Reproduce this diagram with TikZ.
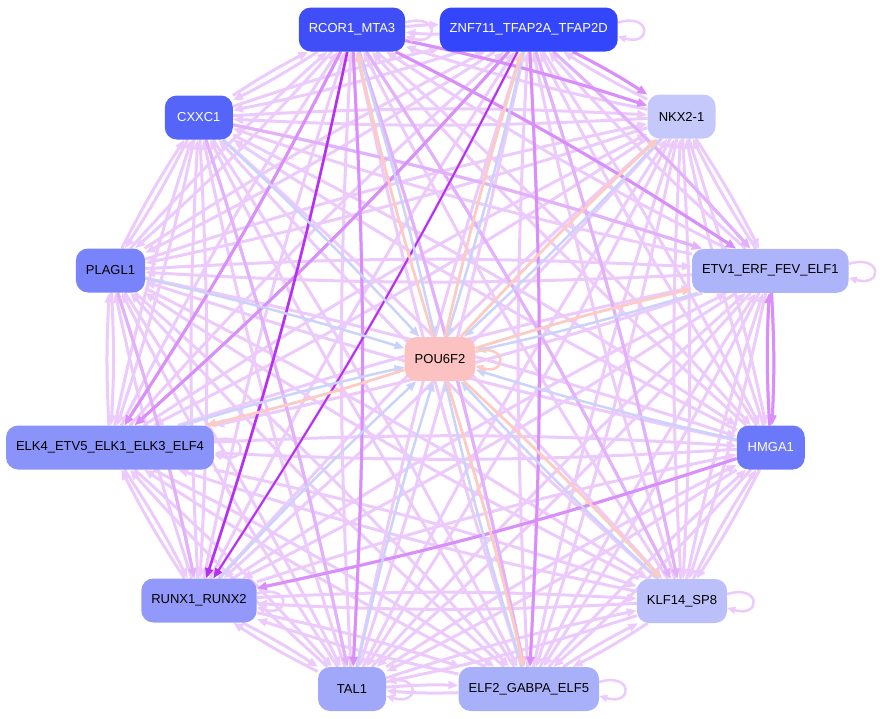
\documentclass[tikz,border=0pt]{standalone}
\usepackage{fontspec}
\setmainfont{Liberation Sans}
\usetikzlibrary{arrows.meta}
\pgfdeclarelayer{edges}
\pgfsetlayers{edges,main}
\definecolor{cR}{HTML}{3F4EF7}
\definecolor{cZ}{HTML}{3446FB}
\definecolor{cC}{HTML}{5565FA}
\definecolor{cP}{HTML}{7A84FA}
\definecolor{cH}{HTML}{6C78FA}
\definecolor{cL}{HTML}{8A93FA}
\definecolor{cU}{HTML}{9299FA}
\definecolor{cT}{HTML}{A1A8FA}
\definecolor{cF}{HTML}{A9B0FA}
\definecolor{cE}{HTML}{AEB4FA}
\definecolor{cK}{HTML}{BBC0FA}
\definecolor{cN}{HTML}{C4C8FA}
\definecolor{cO}{HTML}{FCC2C2}
\definecolor{elight}{HTML}{ECCAFC}
\definecolor{emid}{HTML}{E3B0FB}
\definecolor{emed}{HTML}{D98EF9}
\definecolor{evivid}{HTML}{B630F2}
\definecolor{eblue}{HTML}{CCD3FA}
\definecolor{esalmon}{HTML}{FCCBC4}
\tikzset{
  tf/.style={rounded corners=12pt, minimum width=68pt, minimum height=44pt,
    inner xsep=10pt, font=\fontsize{13pt}{15pt}\selectfont},
  tip/.style={-{Triangle[length=10pt,width=8pt]}},
  lite/.style={draw=elight, line width=3pt, tip},
  mid/.style={draw=emid, line width=3pt, tip},
  med/.style={draw=emed, line width=3pt, tip},
  viv/.style={draw=evivid, line width=2.6pt, tip},
  blu/.style={draw=eblue, line width=2.5pt, tip},
  sal/.style={draw=esalmon, line width=2.8pt, tip},
  lp/.style={draw=elight, line width=2.5pt, -{Triangle[length=8pt,width=7pt]}},
  lps/.style={draw=esalmon, line width=2.5pt, -{Triangle[length=8pt,width=7pt]}}
}
\begin{document}
\begin{tikzpicture}[x=1pt,y=-1pt]
\path[use as bounding box] (0,0) rectangle (880,718);
% nodes
\node[tf, fill=cR, text=white] (R) at (352,29.5) {RCOR1\_MTA3};
\node[tf, fill=cZ, text=white] (Z) at (528.7,29.5) {ZNF711\_TFAP2A\_TFAP2D};
\node[tf, fill=cN] (N) at (681.5,116.5) {NKX2-1};
\node[tf, fill=cE] (E) at (770.3,270.8) {ETV1\_ERF\_FEV\_ELF1};
\node[tf, fill=cH, text=white] (H) at (770.8,447.5) {HMGA1};
\node[tf, fill=cK] (K) at (682,601) {KLF14\_SP8};
\node[tf, fill=cF] (F) at (528.8,689) {ELF2\_GABPA\_ELF5};
\node[tf, fill=cT] (T) at (352,689) {TAL1};
\node[tf, fill=cU] (U) at (199,600.5) {RUNX1\_RUNX2};
\node[tf, fill=cL] (L) at (110,447.5) {ELK4\_ETV5\_ELK1\_ELK3\_ELF4};
\node[tf, fill=cP] (P) at (110.5,270.5) {PLAGL1};
\node[tf, fill=cC, text=white] (C) at (198.8,117.5) {CXXC1};
\node[tf, fill=cO] (O) at (440,359) {POU6F2};
\begin{pgfonlayer}{edges}
% dense light network
\foreach \a in {R,Z,N,E,H,K,F,T,U,L,P,C}{
  \foreach \b in {R,Z,N,E,H,K,F,T,U,L,P,C}{
    \ifx\a\b\else
      \draw[lite] (\a) to[bend left=3] (\b);
    \fi
  }
}
% somewhat stronger edges
\foreach \a/\b in {C/E,R/K,Z/K,C/T,R/F,Z/E,P/U}{
  \draw[mid] (\a) to[bend left=3] (\b);
}
% stronger edges
\foreach \a/\b in {R/T,Z/F,E/H,H/E,H/U,R/N,Z/N,R/E,R/L,Z/L}{
  \draw[med] (\a) to[bend left=3] (\b);
}
\draw[viv] (R) to[bend left=3] (U);
\draw[viv, line width=2pt] (Z) to[bend left=3] (U);
% self loops
\foreach \n in {R,Z,E,K,F,T,U,L}{
  \draw[lp] ([yshift=7pt]\n.east) .. controls +(34pt,10pt) and +(34pt,-10pt) .. ([yshift=-7pt]\n.east);
}
% POU6F2 edges
\foreach \a in {R,Z,N,E,H,K,F,T,U,L,P,C}{
  \draw[blu] (\a) to[bend left=2] (O);
}
\foreach \b in {R,Z,N,E,L,K,F}{
  \draw[sal] (O) to[bend left=2] (\b);
}
\draw[lps] ([yshift=7pt]O.east) .. controls +(32pt,10pt) and +(32pt,-10pt) .. ([yshift=-7pt]O.east);
\end{pgfonlayer}
\end{tikzpicture}
\end{document}
